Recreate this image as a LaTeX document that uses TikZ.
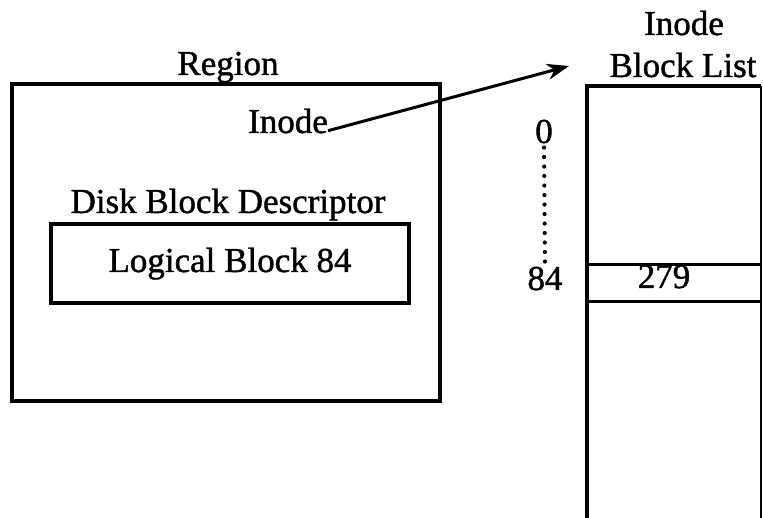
\documentclass[tikz,border=0pt]{standalone}
\usepackage{fontspec}
\setmainfont[FakeBold=1.2]{Liberation Serif}
\usetikzlibrary{arrows.meta}
\begin{document}
\begin{tikzpicture}[x=1pt,y=-1pt,
  lbl/.style={inner sep=0pt,anchor=base,font=\fontsize{35}{40}\selectfont},
  boxline/.style={line width=3.4pt},
  conn/.style={line width=3pt,-{Stealth[length=22pt,width=16pt,inset=7pt]}},
  dots/.style={line width=4.2pt,line cap=round,dash pattern=on 0pt off 9.5pt}]
\useasboundingbox (0,0) rectangle (763,518);
\clip (0,0) rectangle (763,518);
% Region box
\draw[boxline] (12,84) rectangle (440,401);
\node[lbl] (region) at (228,75) {Region};
\node[lbl] (inode) at (288,133) {Inode};
\node[lbl] (dbd) at (228,213) {Disk Block Descriptor};
\draw[boxline] (51,224) rectangle (409,303);
\node[lbl] (logical) at (230,272) {Logical Block 84};
% Inode block list
\node[lbl] (ititle) at (684,35) {Inode};
\node[lbl] (bltitle) at (683,77) {Block List};
\draw[boxline] (587,540) -- (587,86) -- (761,86);
\draw[line width=2.2pt] (761,86) -- (761,540);
\draw[line width=3pt] (587,265) -- (761,265);
\draw[line width=3pt] (587,302) -- (761,302);
\node[lbl] (n279) at (664,288) {279};
\node[lbl] (zero) at (544,143) {0};
\node[lbl] (e84) at (545,290) {84};
\draw[dots] ([yshift=-4pt]zero.south) -- ([yshift=3pt]e84.north);
% arrow
\coordinate (tip) at (569,66);
\draw[conn] (inode.mid east) -- (tip);
\end{tikzpicture}
\end{document}
